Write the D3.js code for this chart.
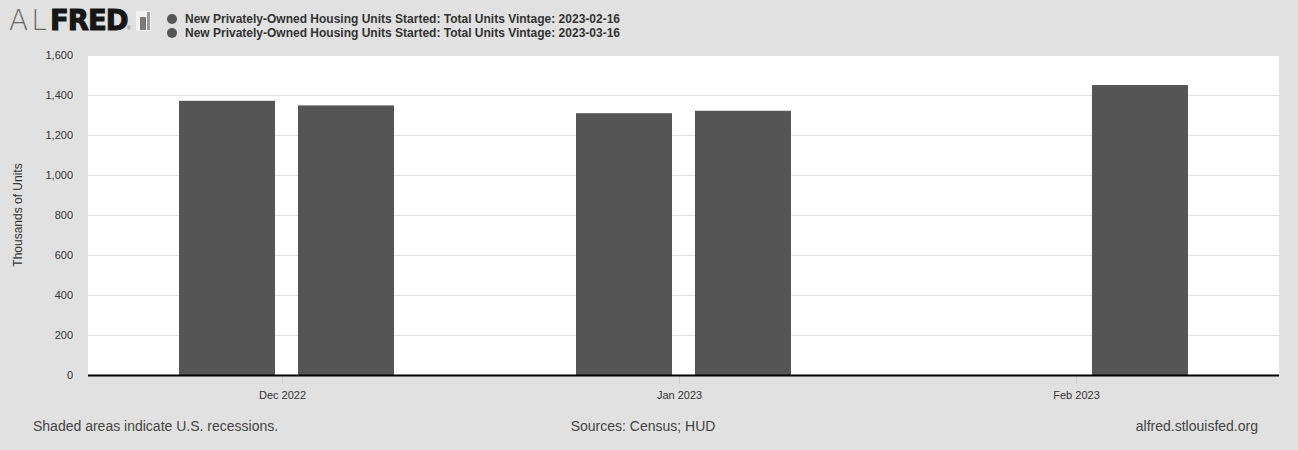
<!DOCTYPE html>
<html>
<head>
<meta charset="utf-8">
<script src="https://cdn.jsdelivr.net/npm/d3@7"></script>
<style>
  body { margin: 0; background: #e1e1e1; }
  svg { display: block; font-family: "Liberation Sans", Arial, sans-serif; }
</style>
</head>
<body>
<script>
// data
var categories = ["Dec 2022", "Jan 2023", "Feb 2023"];
var seriesNames = [
  "New Privately-Owned Housing Units Started: Total Units Vintage: 2023-02-16",
  "New Privately-Owned Housing Units Started: Total Units Vintage: 2023-03-16"
];
var vintageFeb = [1371, 1309, null];
var vintageMar = [1348, 1321, 1450];
var yTicks = [0, 200, 400, 600, 800, 1000, 1200, 1400, 1600];

// layout
var W = 1298, H = 450;
var LEFT = 88, RIGHT = 1279, TOP = 55, BOTTOM = 375;
var barColor = "#555555";

var svg = d3.select("body").append("svg")
  .attr("width", W)
  .attr("height", H);

svg.append("rect").attr("width", W).attr("height", H).attr("fill", "#e1e1e1");

// logo
svg.append("text").attr("x", 9).attr("y", 30).text("AL")
  .attr("fill", "#6a6a6a").style("font-weight", "200")
  .style("font-family", "'DejaVu Sans', sans-serif").style("font-size", "28px")
  .attr("letter-spacing", "3");
svg.append("text").attr("x", 50).attr("y", 30).text("FRED")
  .attr("fill", "#161616").attr("stroke", "#161616").attr("stroke-width", 1)
  .style("font-weight", "bold")
  .style("font-family", "'DejaVu Sans', sans-serif").style("font-size", "27.5px")
  .attr("letter-spacing", "-1");
svg.append("text").attr("x", 127).attr("y", 30).text("®")
  .style("font-size", "5px").attr("fill", "#666");
svg.append("rect").attr("x", 136).attr("y", 11).attr("width", 15).attr("height", 20).attr("fill", "#f2f2f2");
svg.append("rect").attr("x", 140).attr("y", 17).attr("width", 6).attr("height", 13).attr("fill", "#7a7a7a");
svg.append("rect").attr("x", 147).attr("y", 12).attr("width", 3).attr("height", 18).attr("fill", "#9a9a9a");

// legend
var legend = svg.append("g").selectAll("g").data(seriesNames).enter().append("g")
  .attr("transform", function (d, i) { return "translate(172," + (19 + i * 14) + ")"; });
legend.append("circle").attr("r", 5).attr("fill", barColor);
legend.append("text").attr("x", 13).attr("y", 4).text(function (d) { return d; })
  .style("font-size", "12px").style("font-weight", "bold").attr("fill", "#333");

// plot background
svg.append("rect")
  .attr("x", LEFT).attr("y", TOP)
  .attr("width", RIGHT - LEFT).attr("height", BOTTOM - TOP)
  .attr("fill", "#ffffff");

// scales
var x = d3.scaleBand().domain(categories).range([LEFT, RIGHT]).padding(0);
var x1 = d3.scaleBand().domain([0, 1]).range([0, x.bandwidth()])
  .paddingInner(0.193).paddingOuter(0.765);
var y = d3.scaleLinear().domain([0, 1600]).range([BOTTOM, TOP]);

// gridlines
svg.append("g").selectAll("line").data(yTicks.slice(1)).enter().append("line")
  .attr("x1", LEFT).attr("x2", RIGHT)
  .attr("y1", function (d) { return y(d) + 0.5; })
  .attr("y2", function (d) { return y(d) + 0.5; })
  .attr("stroke", "#e2e2e2").attr("stroke-width", 1);

// y axis labels
var yAxis = d3.axisLeft(y).tickValues(yTicks).tickSize(0).tickPadding(15)
  .tickFormat(d3.format(","));
var yg = svg.append("g").attr("transform", "translate(" + LEFT + ",0)").call(yAxis);
yg.select(".domain").remove();
yg.selectAll("text").style("font-size", "11px").attr("fill", "#333")
  .style("font-family", "'Liberation Sans', Arial, sans-serif");

svg.append("text")
  .attr("transform", "translate(22," + ((TOP + BOTTOM) / 2) + ") rotate(-90)")
  .attr("text-anchor", "middle")
  .text("Thousands of Units")
  .style("font-size", "12px").attr("fill", "#333");

// bars
var rows = categories.map(function (c, i) {
  return { cat: c, vals: [vintageFeb[i], vintageMar[i]] };
});
var groups = svg.append("g").selectAll("g").data(rows).enter().append("g")
  .attr("transform", function (d) { return "translate(" + x(d.cat) + ",0)"; });
groups.selectAll("rect")
  .data(function (d) {
    return d.vals.map(function (v, k) { return { k: k, v: v }; })
      .filter(function (e) { return e.v != null; });
  })
  .enter().append("rect")
  .attr("x", function (d) { return x1(d.k); })
  .attr("width", x1.bandwidth())
  .attr("y", function (d) { return y(d.v); })
  .attr("height", function (d) { return y(0) - y(d.v); })
  .attr("fill", barColor);

// x axis
var xAxis = d3.axisBottom(x).tickSize(9).tickPadding(7).tickSizeOuter(0);
var xg = svg.append("g").attr("transform", "translate(-4," + BOTTOM + ")").call(xAxis);
xg.select(".domain").remove();
xg.selectAll(".tick line").attr("stroke", "#cfcfcf");
xg.selectAll("text").style("font-size", "11px").attr("fill", "#333")
  .style("font-family", "'Liberation Sans', Arial, sans-serif");
svg.append("line")
  .attr("x1", LEFT).attr("x2", RIGHT)
  .attr("y1", BOTTOM + 0.5).attr("y2", BOTTOM + 0.5)
  .attr("stroke", "#000").attr("stroke-width", 2);

// footer
var foot = svg.append("g").style("font-size", "14px").attr("fill", "#444");
foot.append("text").attr("x", 33).attr("y", 431).text("Shaded areas indicate U.S. recessions.");
foot.append("text").attr("x", 643).attr("y", 431).attr("text-anchor", "middle").text("Sources: Census; HUD");
foot.append("text").attr("x", 1258).attr("y", 431).attr("text-anchor", "end").text("alfred.stlouisfed.org");
</script>
</body>
</html>
